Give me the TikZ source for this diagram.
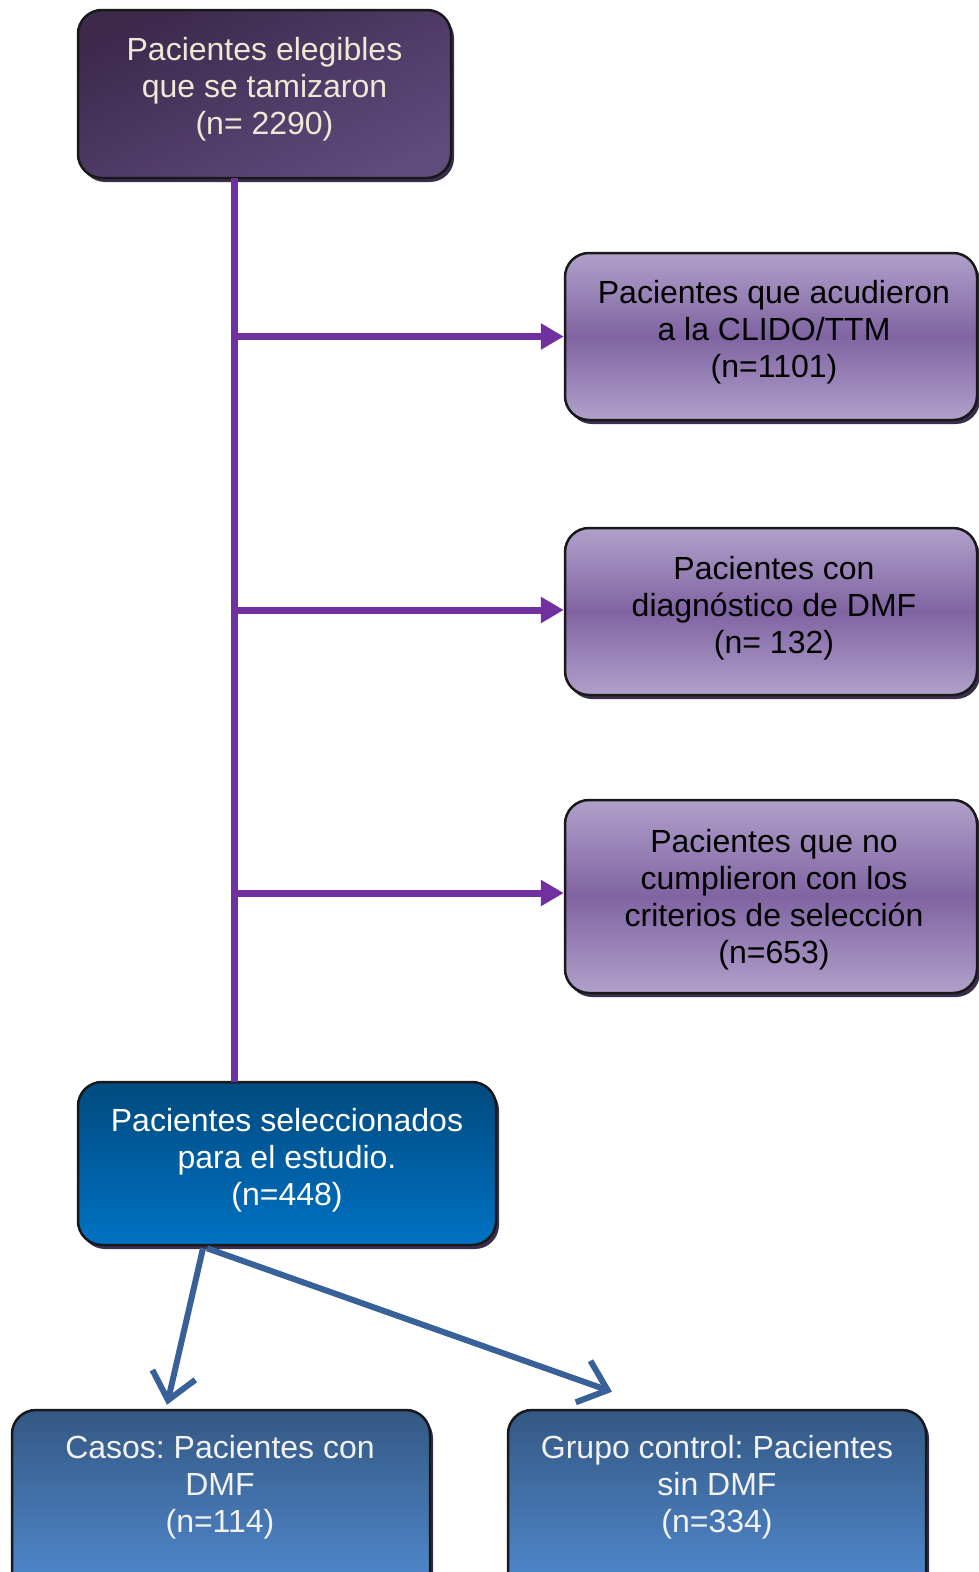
\documentclass[tikz,border=0pt]{standalone}
\usepackage{fontspec}
\setmainfont{Liberation Sans}
\frenchspacing
\usetikzlibrary{arrows.meta,shadows}
\definecolor{shadowc}{HTML}{3A2E4C}
\definecolor{topA}{HTML}{3C294C}
\definecolor{topB}{HTML}{5F4B7C}
\definecolor{topText}{HTML}{EEE8D5}
\definecolor{purA}{HTML}{B0A0CA}
\definecolor{purM}{HTML}{8064A2}
\definecolor{selA}{HTML}{004A7E}
\definecolor{selB}{HTML}{0072C4}
\definecolor{grpA}{HTML}{345883}
\definecolor{grpB}{HTML}{528CD4}
\definecolor{trunkc}{HTML}{7030A0}
\definecolor{bluearr}{HTML}{386199}
\begin{document}
\begin{tikzpicture}[x=1pt,y=-1pt,
  box/.style={draw=black!90, line width=2.5pt, rounded corners=24pt, inner sep=0pt,
    drop shadow={shadow xshift=3pt,shadow yshift=-4pt,fill=shadowc,opacity=1}},
  topbox/.style={box, top color=topA, bottom color=topB, shading angle=25},
  purbox/.style={box, top color=purA, bottom color=purA, middle color=purM},
  selbox/.style={box, top color=selA, bottom color=selB},
  grpbox/.style={box, top color=grpA, bottom color=grpB},
  txt/.style={align=center, font=\fontsize{32}{37}\selectfont, inner sep=0pt, anchor=north},
  trunk/.style={draw=trunkc, line width=7pt},
  branch/.style={draw=trunkc, line width=7pt, -{Triangle[length=23pt,width=25pt]}},
  splitarrow/.style={draw=bluearr, line width=6pt, -{Straight Barb[length=26pt,width=44pt,line width=6pt]}}
]
\useasboundingbox (0,0) rectangle (978,1572);

% boxes
\node[topbox, minimum width=373pt, minimum height=168pt] (top) at (264.5,94) {};
\node[purbox, minimum width=412pt, minimum height=167pt] (r1) at (771,336.5) {};
\node[purbox, minimum width=412pt, minimum height=167pt] (r2) at (771,611.5) {};
\node[purbox, minimum width=412pt, minimum height=193pt] (r3) at (771,896.5) {};
\node[selbox, minimum width=418pt, minimum height=163pt] (sel) at (287,1163.5) {};
\node[grpbox, minimum width=418pt, minimum height=190pt] (c1) at (221,1505) {};
\node[grpbox, minimum width=418pt, minimum height=190pt] (c2) at (717,1505) {};

% connectors
\coordinate (tx) at (234,0);
\draw[trunk] ([yshift=1pt]top.south -| tx) -- ([yshift=-1pt]sel.north -| tx);
\draw[branch] (r1.west -| tx) -- (r1.west);
\draw[branch] ([yshift=1.5pt]r2.west -| tx) -- ([yshift=1.5pt]r2.west);
\draw[branch] ([yshift=3.5pt]r3.west -| tx) -- ([yshift=3.5pt]r3.west);
\draw[splitarrow] ([xshift=-84pt,yshift=-2pt]sel.south) -- ([xshift=-54pt,yshift=4pt]c1.north);
\draw[splitarrow] ([xshift=-80pt,yshift=-2pt]sel.south) -- ([xshift=-105pt,yshift=17pt]c2.north);

% texts
\node[txt, text=topText] (ttop) at ([yshift=-28pt]top.north) {Pacientes elegibles\\que se tamizaron\\(n= 2290)};
\node[txt, text=black] (tr1) at ([xshift=3pt,yshift=-28pt]r1.north) {Pacientes que acudieron\\a la CLIDO/TTM\\(n=1101)};
\node[txt, text=black] (tr2) at ([xshift=3pt,yshift=-29pt]r2.north) {Pacientes con\\diagnóstico de DMF\\(n= 132)};
\node[txt, text=black] (tr3) at ([xshift=3pt,yshift=-30pt]r3.north) {Pacientes que no\\cumplieron con los\\criterios de selección\\(n=653)};
\node[txt, text=white] (tsel) at ([yshift=-27pt]sel.north) {Pacientes seleccionados\\para el estudio.\\(n=448)};
\node[txt, text=white!95!black] (tc1) at ([xshift=-1pt,yshift=-26pt]c1.north) {Casos: Pacientes con\\DMF\\(n=114)};
\node[txt, text=white!95!black] (tc2) at ([yshift=-26pt]c2.north) {Grupo control: Pacientes\\sin DMF\\(n=334)};
\end{tikzpicture}
\end{document}
